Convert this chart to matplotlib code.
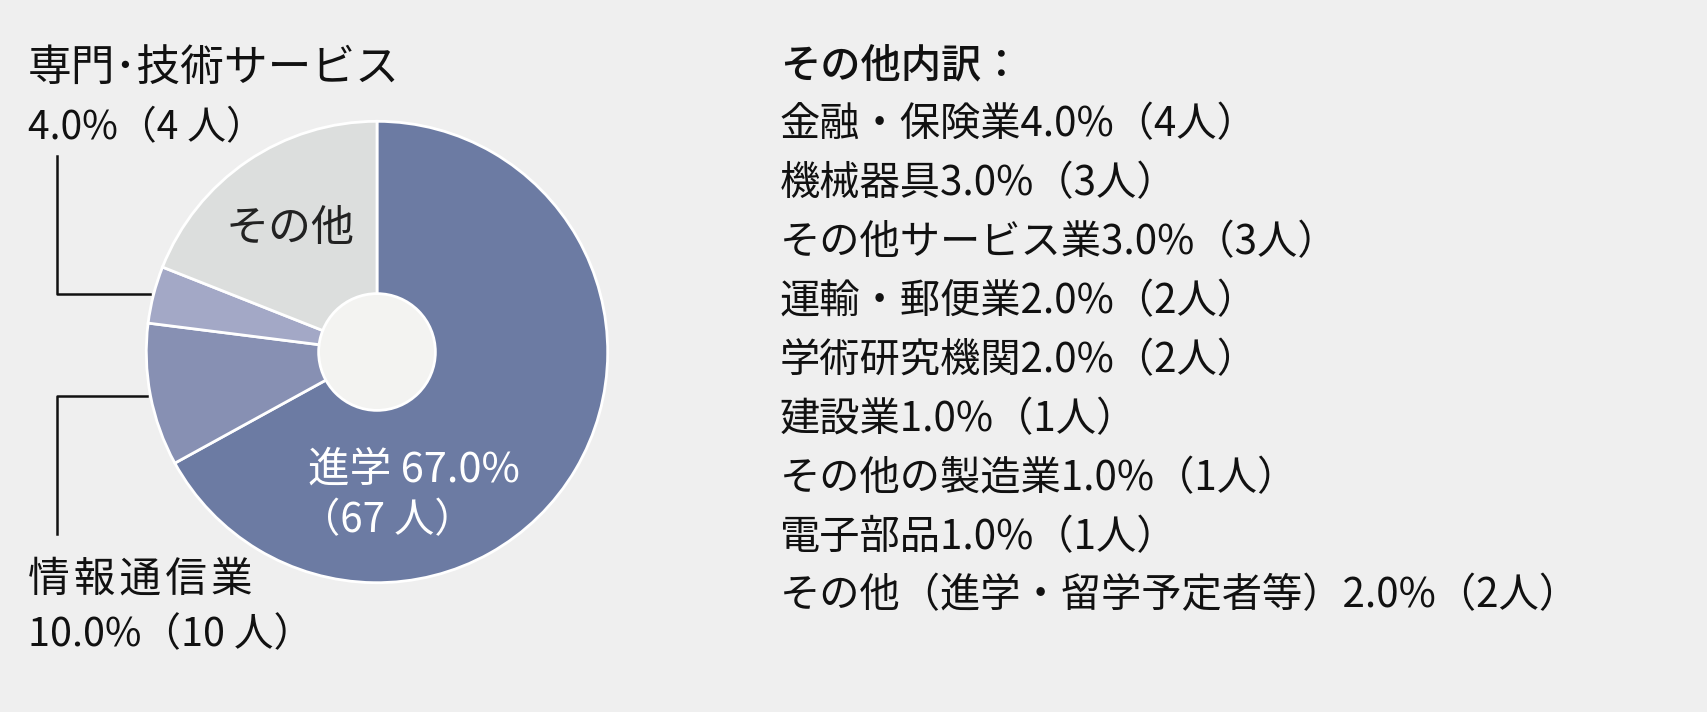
import matplotlib
matplotlib.use('Agg')
import matplotlib.pyplot as plt
from matplotlib.patches import Circle
from matplotlib.lines import Line2D

plt.rcParams['font.family'] = ['Noto Sans CJK JP', 'DejaVu Sans']

# ── Data ─────────────────────────────────────────────────────────────────────
labels = ['進学', '情報通信業', '専門・技術サービス', 'その他']
values = [67, 10, 4, 19]
colors = ['#6c7ba3', '#8790b3', '#a3a8c6', '#dcdedd']

other_title = 'その他内訳：'
other_items = ['金融・保険業4.0%（4人）', '機械器具3.0%（3人）',
               'その他サービス業3.0%（3人）', '運輸・郵便業2.0%（2人）',
               '学術研究機関2.0%（2人）', '建設業1.0%（1人）',
               'その他の製造業1.0%（1人）', '電子部品1.0%（1人）',
               'その他（進学・留学予定者等）2.0%（2人）']

W, H = 1707, 712
BG = '#efefef'

def fx(x):
    return x / W

def fy(y):
    return 1 - y / H

fig = plt.figure(figsize=(W / 100, H / 100), dpi=100, facecolor=BG)

# ── Pie ──────────────────────────────────────────────────────────────────────
cx, cy, r = 377, 352, 233
ax = fig.add_axes([fx(cx - r), fy(cy + r), 2 * r / W, 2 * r / H])
ax.pie(values, colors=colors, startangle=90, counterclock=False, radius=1,
       wedgeprops=dict(edgecolor='white', linewidth=2))
ax.add_patch(Circle((0, 0), 0.253, facecolor='#f3f3f1', edgecolor='white',
                    linewidth=2, zorder=5))
ax.set_xlim(-1.01, 1.01)
ax.set_ylim(-1.01, 1.01)
ax.axis('off')

# labels on the pie
fig.text(fx(226), fy(229), 'その他', fontsize=31, color='#222222',
         ha='left', va='center')
fig.text(fx(308), fy(470), f'{labels[0]} {values[0]}.0%', fontsize=30,
         color='white', ha='left', va='center')
fig.text(fx(300), fy(521), f'（{values[0]} 人）', fontsize=29,
         color='white', ha='left', va='center')

# outside labels with leader lines
fig.text(fx(28), fy(68), labels[2].replace('・', '･'), fontsize=31.5,
         color='#111111', ha='left', va='center')
fig.text(fx(28), fy(128), f'{values[2]}.0%（{values[2]} 人）', fontsize=28,
         color='#111111', ha='left', va='center')
fig.text(fx(28), fy(580), '\u200a'.join(labels[1]), fontsize=30,
         color='#111111', ha='left', va='center')
fig.text(fx(28), fy(635), f'{values[1]}.0%（{values[1]} 人）', fontsize=28.5,
         color='#111111', ha='left', va='center')

for xs, ys in [([57, 57, 150], [156, 294, 294]),
               ([57, 57, 147], [534, 396, 396])]:
    fig.add_artist(Line2D([fx(x) for x in xs], [fy(y) for y in ys],
                          color='#111111', lw=1.8))

# ── その他内訳 list ─────────────────────────────────────────────────────────
x0, y0, dy = 780, 66, 58.9
fig.text(fx(x0), fy(y0), other_title, fontsize=29, fontweight='medium',
         color='#111111', ha='left', va='center')
for i, item in enumerate(other_items):
    fig.text(fx(x0), fy(y0 + dy * (i + 1)), item, fontsize=29,
             color='#111111', ha='left', va='center')

fig.savefig('out.png', dpi=100, facecolor=BG)
plt.close(fig)
